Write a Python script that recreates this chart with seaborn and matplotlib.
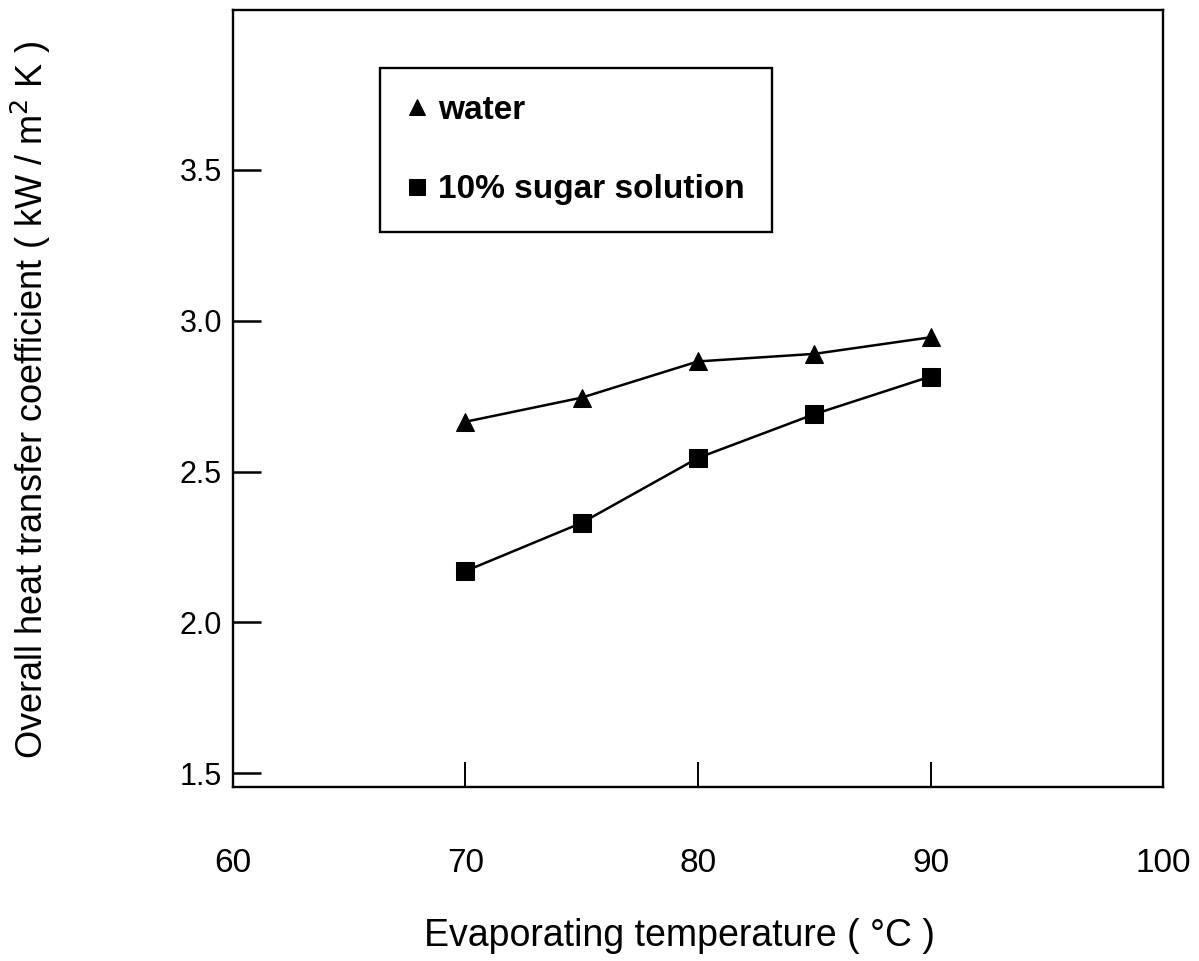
import matplotlib
matplotlib.use("Agg")
import matplotlib.pyplot as plt
import seaborn as sns
import pandas as pd

# Measured overall heat transfer coefficients
temperature = [70, 75, 80, 85, 90]
water = [2.665, 2.745, 2.865, 2.89, 2.945]
sugar = [2.17, 2.33, 2.545, 2.69, 2.815]
series_names = ["water", "10% sugar solution"]
x_ticks = [60, 70, 80, 90, 100]
y_ticks = [1.5, 2.0, 2.5, 3.0, 3.5]

df = pd.DataFrame({
    "T": temperature * 2,
    "U": water + sugar,
    "fluid": [series_names[0]] * len(temperature) + [series_names[1]] * len(temperature),
})

sns.set_theme(style="ticks")
plt.rcParams["font.family"] = ["Liberation Sans", "DejaVu Sans"]
plt.rcParams["text.color"] = "black"
plt.rcParams["axes.labelcolor"] = "black"

fig = plt.figure(figsize=(11.99, 9.61), dpi=100)
ax = fig.add_axes([0.1943, 0.181, 0.7757, 0.8086])

sns.lineplot(
    data=df, x="T", y="U", hue="fluid", style="fluid",
    markers={"water": "^", "10% sugar solution": "s"},
    dashes=False, palette={"water": "black", "10% sugar solution": "black"},
    markersize=13, linewidth=1.8, markeredgecolor="black", ax=ax, legend=True,
)

ax.set_xlim(60, 100)
ax.set_ylim(1.454, 4.03)
ax.set_xticks(x_ticks)
ax.set_yticks(y_ticks)
ax.set_yticklabels([f"{v:.1f}" for v in y_ticks])
ax.set_xticklabels([str(v) for v in x_ticks])

for s in ax.spines.values():
    s.set_visible(True)
    s.set_linewidth(1.7)
    s.set_color("black")

ax.tick_params(axis="y", direction="in", length=20, width=1.8, pad=8,
               labelsize=22, colors="black", right=False)
ax.tick_params(axis="x", direction="in", length=18, width=1.4, pad=44,
               labelsize=24, colors="black", top=False)

ax.set_xlabel("Evaporating temperature ( °C )", fontsize=27)
ax.set_ylabel("Overall heat transfer coefficient ( kW / m$^2$ K )", fontsize=26)
ax.xaxis.set_label_coords(0.48, -0.168)
ax.yaxis.set_label_coords(-0.194, 0.498)

handles, labels = ax.get_legend_handles_labels()
leg = ax.legend(
    handles, labels, loc="upper left", bbox_to_anchor=(0.158, 0.925),
    frameon=True, fancybox=False, edgecolor="black", framealpha=1,
    prop={"size": 24, "weight": "bold"}, borderpad=0.8, labelspacing=1.45,
    handlelength=0.6, handletextpad=0.35, borderaxespad=0,
)
leg.get_frame().set_linewidth(1.7)
for h in leg.legend_handles:
    h.set_markersize(11)
    h.set_linestyle("none")

fig.savefig("out.png", dpi=100)
